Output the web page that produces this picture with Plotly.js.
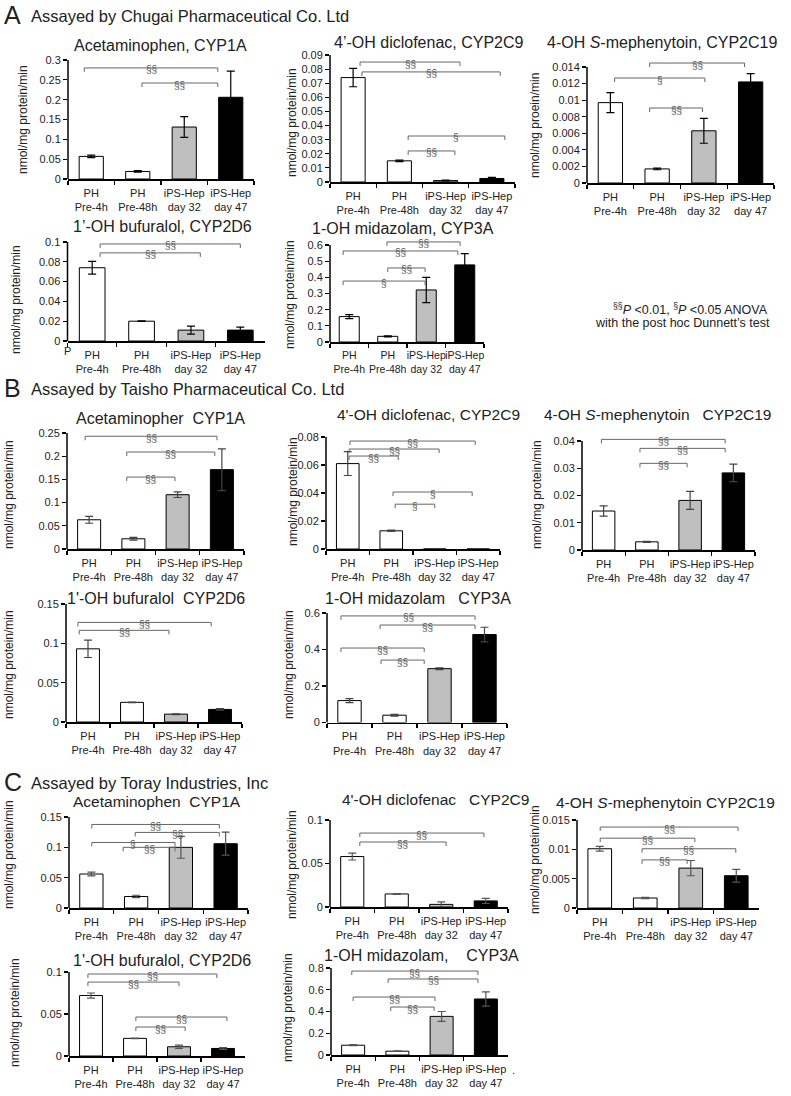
<!DOCTYPE html>
<html><head><meta charset="utf-8">
<script src="https://cdn.plot.ly/plotly-3.0.1.min.js"></script>
<style>html,body{margin:0;padding:0;background:#fff}#chart{width:791px;height:1096px}</style>
</head><body><div id="chart"></div>
<script>
// ---------------- DATA ----------------
const categories = ["PH<br>Pre-4h", "PH<br>Pre-48h", "iPS-Hep<br>day 32", "iPS-Hep<br>day 47"];
const barColors = ["#ffffff", "#ffffff", "#bfbfbf", "#000000"];
const yTitle = "nmol/mg protein/min";
const yTitleTypo = "nmol/mg proein/min";

// A: Chugai
const aCyp1a = [0.057, 0.019, 0.131, 0.206];
const aCyp1aErr = [0.003, 0.002, 0.026, 0.066];
const aCyp1aSig = [[-0.15, 2.72, 0.28, "§§"], [1.09, 2.72, 0.242, "§§"]];

const aCyp2c9 = [0.074, 0.015, 0.001, 0.0025];
const aCyp2c9Err = [0.0065, 0.0005, 0.0003, 0.0008];
const aCyp2c9Sig = [[0.15, 2.31, 0.085, "§§"], [0.19, 3.18, 0.078, "§§"], [1.19, 3.28, 0.0326, "§"], [1.19, 2.2, 0.022, "§§"]];

const aCyp2c19 = [0.0097, 0.0017, 0.0063, 0.0122];
const aCyp2c19Err = [0.0012, 0.0001, 0.0015, 0.001];
const aCyp2c19Sig = [[0.84, 2.87, 0.01448, "§§"], [0.09, 2.02, 0.01267, "§"], [0.84, 1.97, 0.00905, "§§"]];

const aCyp2d6 = [0.074, 0.020, 0.011, 0.011];
const aCyp2d6Err = [0.0065, 0.0003, 0.004, 0.003];
const aCyp2d6Sig = [[0.16, 3.0, 0.098, "§§"], [0.16, 2.19, 0.089, "§§"]];

const aCyp3a = [0.157, 0.035, 0.322, 0.477];
const aCyp3aErr = [0.012, 0.003, 0.078, 0.07];
const aCyp3aSig = [[0.98, 2.88, 0.619, "§§"], [-0.16, 2.82, 0.563, "§§"], [1.0, 1.97, 0.458, "§§"], [-0.16, 1.97, 0.377, "§"]];

// B: Taisho
const bCyp1a = [0.063, 0.022, 0.117, 0.171];
const bCyp1aErr = [0.0075, 0.003, 0.006, 0.045];
const bCyp1aSig = [[-0.09, 2.89, 0.243, "§§"], [0.85, 2.84, 0.209, "§§"], [0.85, 1.94, 0.155, "§§"]];

const bCyp2c9 = [0.061, 0.013, 0, 0];
const bCyp2c9Err = [0.0085, 0.0005, 0, 0];
const bCyp2c9Sig = [[0.05, 2.93, 0.0771, "§§"], [0.03, 2.1, 0.0714, "§§"], [0.03, 1.16, 0.0664, "§§"], [1.04, 2.86, 0.0407, "§"], [1.09, 2.0, 0.032, "§"]];

const bCyp2c19 = [0.0143, 0.003, 0.0182, 0.0283];
const bCyp2c19Err = [0.0019, 0.0002, 0.0033, 0.0032];
const bCyp2c19Sig = [[-0.05, 2.81, 0.0406, "§§"], [0.84, 2.81, 0.0373, "§§"], [0.84, 1.93, 0.0318, "§§"]];

const bCyp2d6 = [0.093, 0.025, 0.010, 0.016];
const bCyp2d6Err = [0.011, 0.0003, 0.0005, 0.001];
const bCyp2d6Sig = [[-0.23, 2.8, 0.1266, "§§"], [-0.2, 1.84, 0.1165, "§§"]];

const bCyp3a = [0.12, 0.04, 0.295, 0.482];
const bCyp3aErr = [0.011, 0.005, 0.005, 0.04];
const bCyp3aSig = [[-0.19, 2.79, 0.584, "§§"], [0.68, 2.79, 0.534, "§§"], [-0.19, 1.66, 0.408, "§§"], [0.7, 1.66, 0.342, "§§"]];

// C: Toray
const cCyp1a = [0.056, 0.019, 0.1, 0.106];
const cCyp1aErr = [0.003, 0.002, 0.018, 0.019];
const cCyp1aSig = [[0.01, 2.86, 0.1377, "§§"], [0.98, 2.86, 0.1246, "§§"], [0.01, 1.87, 0.108, "§"], [0.71, 1.87, 0.1, "§§"]];

const cCyp2c9 = [0.058, 0.015, 0.003, 0.007];
const cCyp2c9Err = [0.004, 0.0005, 0.003, 0.003];
const cCyp2c9Sig = [[0.17, 2.96, 0.085, "§§"], [0.17, 2.11, 0.0747, "§§"]];

const cCyp2c19 = [0.0101, 0.0017, 0.0068, 0.0055];
const cCyp2c19Err = [0.0004, 0.0001, 0.0013, 0.0011];
const cCyp2c19Sig = [[0.01, 3.04, 0.0138, "§§"], [0.01, 2.09, 0.0119, "§§"], [0.93, 2.99, 0.0101, "§§"], [0.93, 1.92, 0.0082, "§§"]];

const cCyp2d6 = [0.072, 0.021, 0.011, 0.009];
const cCyp2d6Err = [0.003, 0.0003, 0.002, 0.001];
const cCyp2d6Sig = [[-0.07, 2.86, 0.0976, "§§"], [-0.07, 2.0, 0.088, "§§"], [1.02, 3.09, 0.0464, "§§"], [1.02, 2.14, 0.0345, "§§"]];

const cCyp3a = [0.09, 0.035, 0.355, 0.515];
const cCyp3aErr = [0.005, 0.003, 0.045, 0.065];
const cCyp3aSig = [[-0.03, 2.82, 0.772, "§§"], [0.79, 2.82, 0.699, "§§"], [0.0, 1.85, 0.533, "§§"], [0.85, 1.83, 0.441, "§§"]];

const panelTitles = [
  "Acetaminophen, CYP1A", "4\u2019-OH diclofenac, CYP2C9", "4-OH <i>S</i>-mephenytoin, CYP2C19",
  "1\u2019-OH bufuralol, CYP2D6", "1-OH midazolam, CYP3A",
  "Acetaminopher\u00a0\u00a0CYP1A", "4'-OH diclofenac, CYP2C9", "4-OH <i>S</i>-mephenytoin\u00a0\u00a0\u00a0CYP2C19",
  "1'-OH bufuralol\u00a0\u00a0CYP2D6", "1-OH midazolam\u00a0\u00a0\u00a0CYP3A",
  "Acetaminophen\u00a0\u00a0CYP1A", "4'-OH diclofenac\u00a0\u00a0\u00a0CYP2C9", "4-OH <i>S</i>-mephenytoin CYP2C19",
  "1'-OH bufuralol, CYP2D6", "1-OH midazolam,\u00a0\u00a0\u00a0\u00a0CYP3A"
];
const yTicksTop = [0.3, 0.09, 0.014, 0.1, 0.6, 0.25, 0.08, 0.04, 0.15, 0.6, 0.15, 0.1, 0.015, 0.1, 0.8];
const yTicksStep = [0.05, 0.01, 0.002, 0.02, 0.1, 0.05, 0.02, 0.01, 0.05, 0.2, 0.05, 0.05, 0.005, 0.05, 0.2];
const sectionLetters = ["A", "B", "C"];
const sectionHeaders = ["Assayed by Chugai Pharmaceutical Co. Ltd", "Assayed by Taisho Pharmaceutical Co. Ltd", "Assayed by Toray Industries, Inc"];
const noteLine1 = "<sup>§§</sup><i>P</i> &lt;0.01, <sup>§</sup><i>P</i> &lt;0.05 ANOVA";
const noteLine2 = "with the post hoc Dunnett\u2019s test";

// ---------------- LAYOUT GEOMETRY (pixels) ----------------
const W = 791, H = 1096;
const geom = [
  {x0:68, x1:254, y0:179, yt:60, tx:160, ty:45, tf:16, xf:11, yx:23, yy:120, ec:'#000'},
  {x0:330, x1:515, y0:182, yt:55, tx:429, ty:43, tf:16, xf:11, yx:292, yy:123, ec:'#000'},
  {x0:587, x1:774, y0:183, yt:67, tx:662, ty:42, tf:16, xf:11, yx:535, yy:126, ec:'#000'},
  {x0:67.5, x1:265, y0:341, yt:242, tx:162, ty:227, tf:16, xf:11, yx:16, yy:300, ec:'#000'},
  {x0:330, x1:484, y0:342, yt:245, tx:403, ty:228, tf:16, xf:10.5, yx:290, yy:295, ec:'#000'},
  {x0:67, x1:244, y0:549, yt:433, tx:160, ty:418, tf:16, xf:11, yx:9, yy:495, ec:'#444'},
  {x0:326, x1:500, y0:549, yt:437, tx:428, ty:415, tf:15.5, xf:11, yx:293, yy:492, ec:'#444'},
  {x0:582, x1:755, y0:550, yt:441, tx:657, ty:415, tf:15.5, xf:11, yx:537, yy:495, ec:'#444'},
  {x0:66, x1:242, y0:722, yt:604, tx:156, ty:598, tf:16, xf:11, yx:9, yy:665, ec:'#444'},
  {x0:327, x1:507, y0:722.5, yt:613, tx:418, ty:598, tf:16, xf:11, yx:289, yy:665, ec:'#444'},
  {x0:69, x1:248, y0:908, yt:817, tx:157, ty:801, tf:15.5, xf:11, yx:9, yy:855, ec:'#555'},
  {x0:330, x1:508, y0:907, yt:820, tx:436, ty:799, tf:15.5, xf:11, yx:292, yy:865, ec:'#555'},
  {x0:577, x1:759, y0:908, yt:820, tx:665, ty:802, tf:15.5, xf:11, yx:535, yy:860, ec:'#555'},
  {x0:69, x1:245, y0:1056, yt:972, tx:162, ty:960, tf:16, xf:11, yx:15, yy:1013, ec:'#555'},
  {x0:331, x1:508, y0:1055, yt:968, tx:421, ty:955, tf:16, xf:11, yx:288, yy:1008, ec:'#555'}
];
const panelData = [
  [aCyp1a, aCyp1aErr, aCyp1aSig, yTitle], [aCyp2c9, aCyp2c9Err, aCyp2c9Sig, yTitle], [aCyp2c19, aCyp2c19Err, aCyp2c19Sig, yTitleTypo],
  [aCyp2d6, aCyp2d6Err, aCyp2d6Sig, yTitle], [aCyp3a, aCyp3aErr, aCyp3aSig, yTitle],
  [bCyp1a, bCyp1aErr, bCyp1aSig, yTitle], [bCyp2c9, bCyp2c9Err, bCyp2c9Sig, yTitle], [bCyp2c19, bCyp2c19Err, bCyp2c19Sig, yTitle],
  [bCyp2d6, bCyp2d6Err, bCyp2d6Sig, yTitle], [bCyp3a, bCyp3aErr, bCyp3aSig, yTitle],
  [cCyp1a, cCyp1aErr, cCyp1aSig, yTitle], [cCyp2c9, cCyp2c9Err, cCyp2c9Sig, yTitle], [cCyp2c19, cCyp2c19Err, cCyp2c19Sig, yTitle],
  [cCyp2d6, cCyp2d6Err, cCyp2d6Sig, yTitle], [cCyp3a, cCyp3aErr, cCyp3aSig, yTitle]
];
const sectionPos = [{y:15}, {y:388}, {y:782}];

const FONT = "Liberation Sans, Arial, sans-serif";
const TXT = "#222";
const px = x => x / W;
const py = y => 1 - y / H;

const traces = [];
const shapes = [];
const annotations = [];
const layout = {
  width: W, height: H, autosize: false,
  margin: {l:0, r:0, t:0, b:0},
  paper_bgcolor: '#fff', plot_bgcolor: 'rgba(0,0,0,0)',
  font: {family: FONT, color: TXT, size: 11},
  showlegend: false
};

geom.forEach((g, i) => {
  const [vals, errs, sig, yt] = panelData[i];
  const sfx = i === 0 ? '' : String(i + 1);
  const xa = 'x' + sfx, ya = 'y' + sfx;
  const top = yTicksTop[i], step = yTicksStep[i];
  const headPx = 12;
  const domTop = g.yt - headPx;
  const ymax = top * (g.y0 - domTop) / (g.y0 - g.yt);
  const unitPerPx = top / (g.y0 - g.yt);
  const tv = [];
  const n = Math.round(top / step);
  for (let k = 0; k <= n; k++) tv.push(+(k * step).toFixed(6));

  layout['xaxis' + sfx] = {
    domain: [px(g.x0), px(g.x1)], anchor: ya, type: 'category',
    range: [-0.5, 3.5], tickson: 'boundaries', ticks: 'outside', ticklen: 4, tickangle: 0,
    ticklabelstandoff: 3,
    tickcolor: '#000', tickwidth: 1.2, showline: true, linecolor: '#000', linewidth: 1.5,
    showgrid: false, zeroline: false, tickfont: {size: g.xf, color: TXT, family: FONT},
    fixedrange: true
  };
  layout['yaxis' + sfx] = {
    domain: [py(g.y0), py(domTop)], anchor: xa, range: [0, ymax],
    tickvals: tv, ticktext: tv.map(v => String(v)),
    ticks: 'outside', ticklen: 4, tickcolor: '#000', tickwidth: 1.2,
    showline: false, showgrid: false, zeroline: false,
    tickfont: {size: 11, color: TXT, family: FONT}, fixedrange: true
  };
  traces.push({
    type: 'bar', x: categories, y: vals, xaxis: xa, yaxis: ya, width: 0.52,
    marker: {color: barColors, line: {color: '#000', width: 1}},
    error_y: {type: 'data', array: errs, visible: true, color: g.ec, thickness: 1.2, width: 4},
    hoverinfo: 'skip', showlegend: false
  });
  shapes.push({type: 'line', xref: xa + ' domain', yref: ya, x0: 0, x1: 0, y0: 0, y1: top,
    line: {color: '#000', width: 1.5}});
  const drop = 4 * unitPerPx;
  sig.forEach(([a, b, y, lab]) => {
    const ln = {color: '#666', width: 1};
    shapes.push({type: 'line', xref: xa, yref: ya, x0: a, x1: b, y0: y, y1: y, line: ln});
    shapes.push({type: 'line', xref: xa, yref: ya, x0: a, x1: a, y0: y, y1: y - drop, line: ln});
    shapes.push({type: 'line', xref: xa, yref: ya, x0: b, x1: b, y0: y, y1: y - drop, line: ln});
    annotations.push({xref: xa, yref: ya, x: (a + b) / 2, y: y, text: lab, showarrow: false,
      xanchor: 'center', yanchor: 'middle', yshift: -2,
      font: {size: 10, color: '#555', family: FONT}});
  });
  annotations.push({xref: 'paper', yref: 'paper', x: px(g.tx), y: py(g.ty), text: panelTitles[i],
    showarrow: false, xanchor: 'center', yanchor: 'middle', font: {size: g.tf, color: TXT, family: FONT}});
  annotations.push({xref: 'paper', yref: 'paper', x: px(g.yx), y: py(g.yy), text: yt, textangle: -90,
    showarrow: false, xanchor: 'center', yanchor: 'middle', font: {size: 12, color: TXT, family: FONT}});
});

sectionLetters.forEach((L, k) => {
  annotations.push({xref: 'paper', yref: 'paper', x: px(2), y: py(sectionPos[k].y), text: L,
    showarrow: false, xanchor: 'left', yanchor: 'middle', font: {size: 25, color: TXT, family: FONT}});
  annotations.push({xref: 'paper', yref: 'paper', x: px(29), y: py(sectionPos[k].y + 1), text: sectionHeaders[k],
    showarrow: false, xanchor: 'left', yanchor: 'middle', font: {size: 16.5, color: TXT, family: FONT}});
});
annotations.push({xref: 'paper', yref: 'paper', x: px(690), y: py(309), text: noteLine1, showarrow: false,
  xanchor: 'center', yanchor: 'middle', font: {size: 12.5, color: TXT, family: FONT}});
annotations.push({xref: 'paper', yref: 'paper', x: px(682), y: py(323), text: noteLine2, showarrow: false,
  xanchor: 'center', yanchor: 'middle', font: {size: 12.5, color: TXT, family: FONT}});
annotations.push({xref: 'paper', yref: 'paper', x: px(67), y: py(351), text: "P", showarrow: false,
  xanchor: 'center', yanchor: 'middle', font: {size: 11, color: TXT, family: FONT}});
annotations.push({xref: 'paper', yref: 'paper', x: px(513), y: py(1070), text: ".", showarrow: false,
  xanchor: 'center', yanchor: 'middle', font: {size: 11, color: TXT, family: FONT}});

layout.shapes = shapes;
layout.annotations = annotations;
Plotly.newPlot('chart', traces, layout, {staticPlot: true, displayModeBar: false});
</script></body></html>
